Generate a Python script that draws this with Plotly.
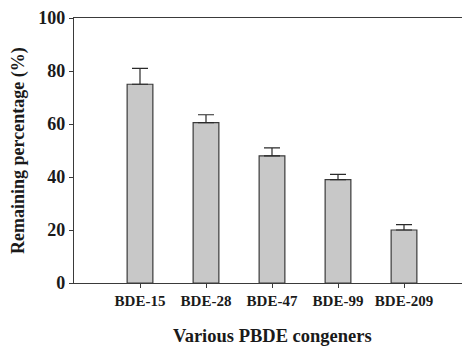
import plotly.graph_objects as go

categories = ["BDE-15", "BDE-28", "BDE-47", "BDE-99", "BDE-209"]
remaining = [75, 60.5, 48, 39, 20]
errors = [6, 3, 3, 2, 2]
y_ticks = [0, 20, 40, 60, 80, 100]

font_family = "Liberation Serif"
axis_color = "#3a3a3a"
text_color = "#1a1a1a"

fig = go.Figure()
fig.add_trace(go.Bar(
    x=categories,
    y=remaining,
    width=0.39,
    marker=dict(color="#c8c8c8", line=dict(color="#3a3a3a", width=1.2)),
    error_y=dict(type="data", array=errors, symmetric=False, arrayminus=[0] * len(errors),
                 color="#2a2a2a", thickness=1.2, width=8),
))

# the page body has an 8px default margin, so the figure is sized to fit the window
fig.update_layout(
    width=462, height=338,
    margin=dict(l=66, r=0, t=10, b=63),
    plot_bgcolor="white", paper_bgcolor="white",
    showlegend=False,
    font=dict(family=font_family, color=text_color),
    annotations=[
        dict(text="<b>Various PBDE congeners</b>", xref="paper", yref="paper",
             x=0.5, y=0, yshift=-41, xanchor="center", yanchor="top",
             showarrow=False, font=dict(size=18.5, color=text_color)),
        dict(text="<b>Remaining percentage (%)</b>", xref="paper", yref="paper",
             x=0, xshift=-43, y=0.5, xanchor="right", yanchor="middle", textangle=-90,
             showarrow=False, font=dict(size=18, color=text_color)),
    ],
)
fig.update_xaxes(
    type="category", range=[-1, 5], automargin=False,
    showline=True, linecolor=axis_color, linewidth=1.3, mirror=True,
    ticks="outside", ticklen=4, tickcolor=axis_color, tickwidth=1,
    tickfont=dict(family=font_family, size=15, color=text_color, weight="bold"),
    showgrid=False,
)
fig.update_yaxes(
    range=[0, 100], tickvals=y_ticks, automargin=False,
    showline=True, linecolor=axis_color, linewidth=1.3,
    ticks="outside", ticklen=4, tickcolor=axis_color, tickwidth=1,
    tickfont=dict(family=font_family, size=18, color=text_color, weight="bold"),
    showgrid=False, zeroline=False,
)

fig.write_html("out.html")
